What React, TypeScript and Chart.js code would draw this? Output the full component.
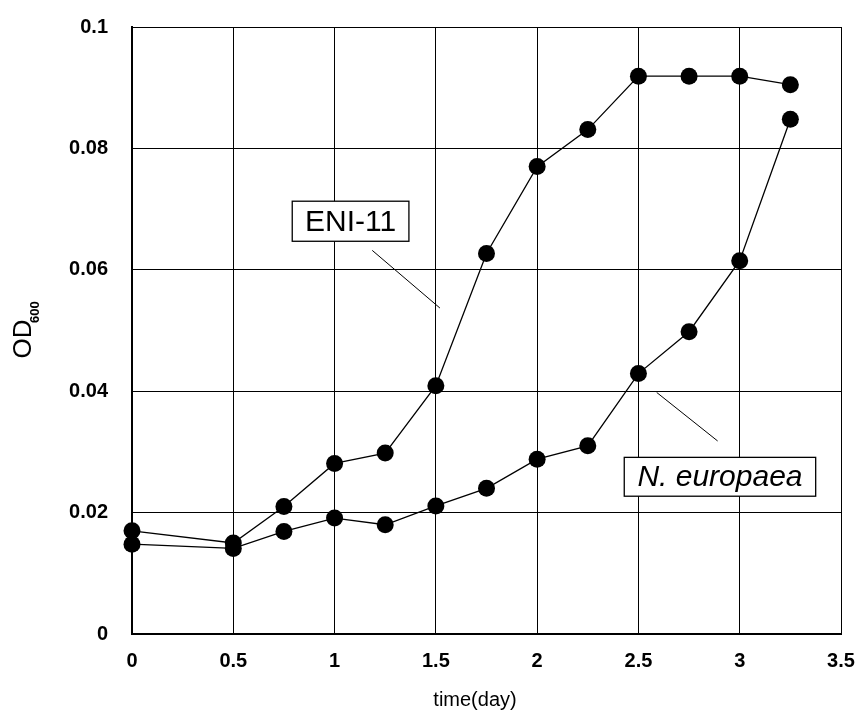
import React, { useEffect, useRef } from "react";
import { Chart, registerables } from "chart.js";

Chart.register(...registerables);

const timeDays = [0, 0.5, 0.75, 1, 1.25, 1.5, 1.75, 2, 2.25, 2.5, 2.75, 3, 3.25];
const eni11 = [0.017, 0.015, 0.021, 0.0281, 0.0298, 0.0409, 0.0627, 0.077, 0.0831, 0.0919, 0.0919, 0.0919, 0.0905];
const nEuropaea = [0.0148, 0.0141, 0.0169, 0.0191, 0.018, 0.0211, 0.024, 0.0288, 0.031, 0.0429, 0.0498, 0.0615, 0.0848];
const xTicks = [0, 0.5, 1, 1.5, 2, 2.5, 3, 3.5];
const yTicks = [0, 0.02, 0.04, 0.06, 0.08, 0.1];

const FONT = '"Liberation Sans", Arial, Helvetica, sans-serif';

const annotations = [
  { text: "ENI-11", italic: false, box: [0.791, 1.367, 0.0713, 0.0647], line: [1.186, 0.0632, 1.52, 0.0537] },
  { text: "N. europaea", italic: true, box: [2.43, 3.375, 0.0291, 0.0227], line: [2.59, 0.0398, 2.891, 0.0318] },
];

const decorPlugin = {
  id: "decor",
  afterDatasetsDraw(chart: any) {
    const ctx = chart.ctx;
    const xs = chart.scales.x;
    const ys = chart.scales.y;
    ctx.save();
    for (const a of annotations) {
      const [x0, x1, y0, y1] = a.box;
      const px0 = xs.getPixelForValue(x0);
      const px1 = xs.getPixelForValue(x1);
      const py0 = ys.getPixelForValue(y0);
      const py1 = ys.getPixelForValue(y1);
      ctx.fillStyle = "#fff";
      ctx.fillRect(px0, py0, px1 - px0, py1 - py0);
      ctx.strokeStyle = "#000";
      ctx.lineWidth = 1.3;
      ctx.strokeRect(px0, py0, px1 - px0, py1 - py0);
      ctx.fillStyle = "#000";
      ctx.font = (a.italic ? "italic " : "") + "30px " + FONT;
      ctx.textAlign = "center";
      ctx.textBaseline = "middle";
      ctx.fillText(a.text, (px0 + px1) / 2, (py0 + py1) / 2 + 1);
      const [lx0, ly0, lx1, ly1] = a.line;
      ctx.beginPath();
      ctx.lineWidth = 1;
      ctx.moveTo(xs.getPixelForValue(lx0), ys.getPixelForValue(ly0));
      ctx.lineTo(xs.getPixelForValue(lx1), ys.getPixelForValue(ly1));
      ctx.stroke();
    }
    ctx.restore();
  },
  afterDraw(chart: any) {
    const ctx = chart.ctx;
    ctx.save();
    ctx.fillStyle = "#000";
    ctx.font = "20px " + FONT;
    ctx.textAlign = "center";
    ctx.textBaseline = "middle";
    ctx.fillText("time(day)", 475, 700);
    ctx.translate(24, 339);
    ctx.rotate(-Math.PI / 2);
    ctx.font = "26px " + FONT;
    ctx.textAlign = "center";
    ctx.fillText("OD", 0, 0);
    ctx.font = "bold 13px " + FONT;
    ctx.textAlign = "left";
    ctx.fillText("600", 16, 11);
    ctx.restore();
  },
};

export default function App() {
  const ref = useRef<HTMLCanvasElement | null>(null);
  useEffect(() => {
    if (!ref.current) return;
    const mk = (vals: number[]) => timeDays.map((x, i) => ({ x, y: vals[i] }));
    const common = {
      borderColor: "#000",
      backgroundColor: "#000",
      pointBackgroundColor: "#000",
      pointBorderColor: "#000",
      pointRadius: 8.5,
      pointBorderWidth: 0,
      borderWidth: 1.3,
      showLine: true,
      clip: false as any,
      tension: 0,
    };
    const chart = new Chart(ref.current, {
      type: "scatter",
      data: {
        datasets: [
          { label: "ENI-11", data: mk(eni11), ...common },
          { label: "N. europaea", data: mk(nEuropaea), ...common },
        ],
      },
      options: {
        animation: false,
        responsive: false,
        devicePixelRatio: 1,
        layout: { padding: { top: 27, right: 14, left: 0, bottom: 0 } },
        plugins: { legend: { display: false }, tooltip: { enabled: false } },
        scales: {
          x: {
            type: "linear",
            min: 0,
            max: 3.5,
            afterBuildTicks: (s: any) => {
              s.ticks = xTicks.map((v) => ({ value: v }));
            },
            afterFit: (s: any) => {
              s.height = 79;
              s.paddingLeft = 0;
              s.paddingRight = 0;
            },
            ticks: {
              color: "#000",
              font: { family: FONT, size: 20, weight: "bold" },
              padding: 15,
              maxRotation: 0,
              callback: (v: any) => String(Number(Number(v).toFixed(2))),
            },
            grid: { color: "#000", lineWidth: 1, drawTicks: false },
            border: { color: "#000", width: 2 },
          },
          y: {
            type: "linear",
            min: 0,
            max: 0.1,
            afterBuildTicks: (s: any) => {
              s.ticks = yTicks.map((v) => ({ value: v }));
            },
            afterFit: (s: any) => {
              s.width = 132;
              s.paddingTop = 0;
              s.paddingBottom = 0;
            },
            ticks: {
              color: "#000",
              font: { family: FONT, size: 20, weight: "bold" },
              padding: 24,
              callback: (v: any) => String(Number(Number(v).toFixed(3))),
            },
            grid: { color: "#000", lineWidth: 1, drawTicks: false },
            border: { color: "#000", width: 2 },
          },
        },
      },
      plugins: [decorPlugin],
    });
    return () => chart.destroy();
  }, []);
  return (
    <div style={{ position: "fixed", left: 0, top: 0, width: 855, height: 713, background: "#fff" }}>
      <canvas ref={ref} width={855} height={713} style={{ width: 855, height: 713, display: "block" }} />
    </div>
  );
}
